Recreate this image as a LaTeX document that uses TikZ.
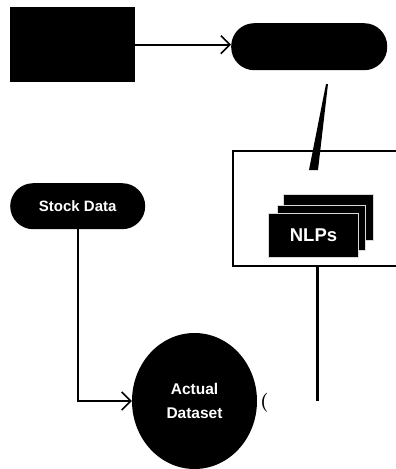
\documentclass[tikz,border=0pt]{standalone}
\usepackage{fontspec}
\setsansfont{Liberation Sans}
\usetikzlibrary{arrows.meta,shapes.geometric}
\begin{document}
\begin{tikzpicture}[x=1pt,y=-1pt,
  blk/.style={fill=black,inner sep=0pt,anchor=north west},
  lbl/.style={text=white,font=\sffamily\bfseries},
  conn/.style={line width=2pt},
  tip/.style={-{Straight Barb[length=9pt,width=18pt,line width=1.6pt]}},
  card/.style={fill=black,draw=white!85!black,line width=1pt,inner sep=0pt,anchor=north west}]
\useasboundingbox (0,0) rectangle (396,469);
% top row
\node[blk,minimum width=125pt,minimum height=75pt] (src) at (10,7) {};
\node[blk,rounded corners=23pt,minimum width=156pt,minimum height=47pt] (pill) at (231,23) {};
\draw[conn,tip] (src.east) -- (src.east -| pill.west);
% big box
\node[draw,line width=2.2pt,inner sep=0pt,anchor=north west,minimum width=180pt,minimum height=115pt] (box) at (232,150) {};
% wedge connector
\coordinate (wa) at (326,84);
\coordinate (wb) at (328,84);
\coordinate (wc) at (318,170);
\coordinate (wd) at (309,170);
\fill (wa) -- (wb) -- (wc) -- (wd) -- cycle;
% NLP stack
\node[card,minimum width=90pt,minimum height=46pt] (n3) at (283,194) {};
\node[card,minimum width=88pt,minimum height=45pt] (n2) at (277,205) {};
\node[card,minimum width=90pt,minimum height=44pt,lbl,font=\sffamily\bfseries\fontsize{18.5}{20}\selectfont] (n1) at (268,213) {NLPs};
% vertical line from box
\coordinate (vend) at (317.5,401);
\draw[line width=2.5pt] (box.south -| vend) -- (vend);
% stock data
\node[blk,rounded corners=23pt,minimum width=135pt,minimum height=46pt,lbl,font=\sffamily\bfseries\fontsize{15}{17}\selectfont] (stock) at (10,183) {Stock Data};
% actual dataset
\node[ellipse,fill=black,inner sep=0pt,minimum width=125pt,minimum height=136pt,lbl,align=center,font=\sffamily\bfseries\fontsize{15.5}{24}\selectfont] (act) at (194.5,401) {Actual\\Dataset};
\draw[conn,tip] (stock.south) |- (act.west);
\node[anchor=west,inner sep=0pt,font=\bfseries\fontsize{19}{24}\selectfont] (paren) at (260,403) {(};
\end{tikzpicture}
\end{document}
